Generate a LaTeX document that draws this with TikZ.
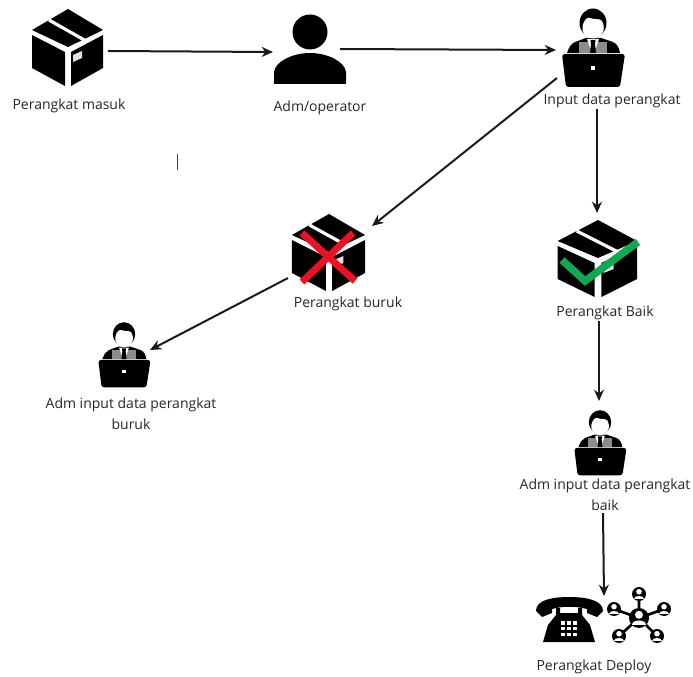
\documentclass[tikz,border=0pt]{standalone}
\usepackage{fontspec}
\setmainfont{Open Sans}
\usetikzlibrary{arrows.meta}
\definecolor{txt}{HTML}{262626}
\definecolor{crossred}{HTML}{EE1122}
\definecolor{tickgreen}{HTML}{10A850}
\tikzset{
  slot/.style 2 args={inner sep=0pt,outer sep=0pt,minimum width=#1*0.75pt,minimum height=#2*0.75pt},
  lbl/.style={font=\fontsize{10.5pt}{15.6pt}\selectfont,text=txt,align=center,inner sep=0pt},
  flow/.style={draw=black!90,line width=1.5pt,-{Stealth[length=8.5pt,width=7.5pt]}},
  cartonicon/.pic={
    \fill (0,-39)--(35,-18)--(0,-1)--(-36,-18)--cycle;
    \fill (-36,-13)--(-3,4)--(-3,38)--(-36,20)--cycle;
    \fill (3,4)--(35,-13)--(35,20)--(3,38)--cycle;
    \draw[white,line width=2.4pt] (-19,-28)--(18,-7);
    \fill[black!12] (5,7)--(14,3)--(14,10)--(5,14)--cycle;
  },
  operatoricon/.pic={
    \fill (-26,5)..controls(-24,-1)and(-22,-4)..(-18,-6)--(-7,-10)--(8,-10)--(20,-6)..controls(24,-4)and(26,-1)..(27,5)--cycle;
    \fill (0,-25) ellipse [x radius=13.5,y radius=14.5];
    \fill[white] (-10.5,-22)..controls(-9,-28)and(-6,-31)..(-3,-30)..controls(1,-28)and(7,-30)..(9,-27)..controls(11,-24)and(11,-20)..(10.5,-17)..controls(8,-12)and(4,-9.5)..(0,-9.5)..controls(-4,-9.5)and(-8,-12)..(-10.5,-17)--cycle;
    \fill[black!45] (-14,-6) rectangle (14,5);
    \fill[white] (-6,-9)--(6,-9)--(3,0)--(-3,0)--cycle;
    \fill (-2.5,-8)--(2.5,-8)--(2,-4)--(3,5)--(-3,5)--(-2,-4)--cycle;
    \fill[rounded corners=2pt] (-31,6)--(32,6)--(27,39)--(-27,39)--cycle;
    \fill[white] (-2,18.5) rectangle (2,22);
  },
  netperson/.pic={
    \fill (0,0) circle [radius=#1];
    \fill[white] (0,-#1*0.32) circle [radius=#1*0.4];
    \fill[white] (-#1*0.68,#1*0.68)..controls(-#1*0.68,#1*0.1)and(#1*0.68,#1*0.1)..(#1*0.68,#1*0.68)--cycle;
  }
}
\begin{document}
\begin{tikzpicture}[x=0.75pt,y=-0.75pt]
\useasboundingbox (0,0) rectangle (693,677);
% slots
\node[slot={80}{80}] (box1) at (68,48) {};
\node[slot={74}{80}] (adm) at (310,52) {};
\node[slot={74}{80}] (inp) at (593,48) {};
\node[slot={74}{80}] (bad) at (329,253) {};
\node[slot={80}{80}] (good) at (598,259) {};
\node[slot={52}{66}] (admbad) at (124,355) {};
\node[slot={52}{66}] (admgood) at (600,443) {};
\node[slot={68}{48}] (phone) at (569,620) {};
\node[slot={60}{58}] (net) at (638,615) {};
% labels
\node[lbl] (l1) at (69,106) {Perangkat masuk};
\node[lbl] (l2) at (320,108) {Adm/operator};
\node[lbl] (l3) at (612,101) {Input data perangkat};
\node[lbl] (l4) at (348,304) {Perangkat buruk};
\node[lbl] (l5) at (605,313) {Perangkat Baik};
\node[lbl] (l6) at (131,414) {Adm input data perangkat\\buruk};
\node[lbl] (l7) at (605,495) {Adm input data perangkat\\baik};
\node[lbl] (l8) at (594,667) {Perangkat Deploy};
% icons
\pic at (box1.center) {cartonicon};
\fill (310,32) circle [radius=17.5];
\fill (274,84)--(274,72)..controls(275,62)and(292,53)..(310,53)..controls(328,53)and(345,62)..(346,72)--(346,84)--cycle;
\pic at (inp.center) {operatoricon};
\pic[xscale=1.03] at (bad.center) {cartonicon};
\pic[xscale=1.12] at (good.center) {cartonicon};
\pic[scale=0.83] at (admbad.center) {operatoricon};
\pic[scale=0.83] at (admgood.center) {operatoricon};
\draw[crossred,line width=5.2pt] (302,233)--(355,281);
\draw[crossred,line width=5.2pt] (353,233)--(302,282);
\draw[tickgreen,line width=5.6pt] (562,260)--(585,281)--(638,242);
% phone
\fill (536,611)..controls(536,600)and(552,597)..(569,597)..controls(586,597)and(603,600)..(603,611)--(597,617)--(587,613)--(587,609)..controls(575,606)and(563,606)..(552,609)--(552,613)--(542,617)--cycle;
\fill (556,608)--(560,608)--(560,613)--(578,613)--(578,608)--(582,608)--(582,615)--(590,625)--(595,642)--(543,642)--(548,625)--(556,615)--cycle;
\foreach \i in {0,1,2}\foreach \j in {0,1,2}
  \fill[white] ({561+6.2*\i},{621+5.8*\j}) rectangle ++(4,3.6);
% network
\draw[line width=2pt] (639,618)--(639,594) (639,618)--(614,609) (639,618)--(664,609) (639,618)--(619,636) (639,618)--(657,636);
\pic at (639,618) {netperson=10};
\pic at (639,594) {netperson=7};
\pic at (614,609) {netperson=7};
\pic at (664,609) {netperson=7};
\pic at (619,636) {netperson=7};
\pic at (657,636) {netperson=7};
% caret
\draw[black!75,line width=0.7pt] (177,154)--(177,170);
% connectors
\draw[flow] ([shift={(0,3)}]box1.east) -- (adm.west);
\draw[flow] ([shift={(-7,-3)}]adm.east) -- ([shift={(0,2)}]inp.west);
\draw[flow] ([shift={(1,-10)}]inp.south west) -- ([shift={(6,13)}]bad.north east);
\draw[flow] ([shift={(-15,1)}]l3.south) -- ([shift={(-1,-6)}]good.north);
\draw[flow] ([shift={(-4,-15)}]bad.south west) -- ([shift={(0,28)}]admbad.north east);
\draw[flow] ([shift={(-6,1)}]l5.south) -- ([shift={(-1,-9)}]admgood.north);
\draw[flow] ([shift={(-2,2)}]l7.south) -- ([shift={(-4,10)}]net.north west);
\end{tikzpicture}
\end{document}
